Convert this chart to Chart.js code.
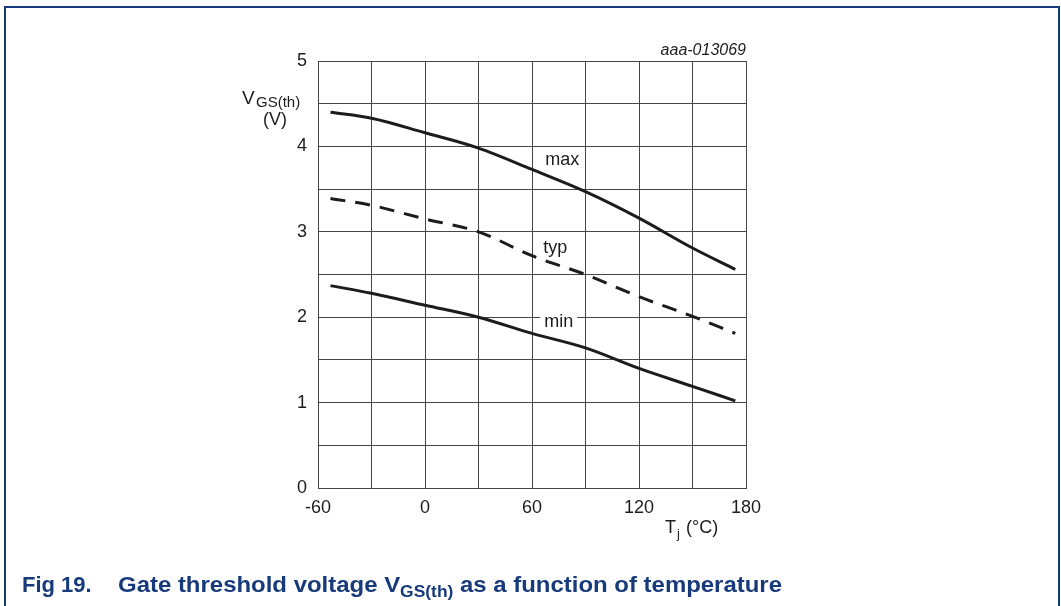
<!DOCTYPE html>
<html>
<head>
<meta charset="utf-8">
<script src="https://cdn.jsdelivr.net/npm/chart.js@4"></script>
<style>
  body { margin: 0; background: #fff; }
  canvas { display: block; }
</style>
</head>
<body>
<canvas id="myChart" width="1061" height="606"></canvas>
<script>
// junction temperature (°C)
const temps = [-53, -30, 0, 30, 60, 90, 120, 150, 174];
// gate threshold voltage (V)
const vMax = [4.40, 4.33, 4.16, 3.98, 3.73, 3.47, 3.16, 2.81, 2.56];
const vTyp = [3.39, 3.31, 3.15, 3.00, 2.72, 2.50, 2.24, 2.01, 1.81];
const vMin = [2.37, 2.28, 2.14, 2.00, 1.81, 1.64, 1.40, 1.19, 1.02];

const curveLabels = [
  { text: 'max', t: 77, v: 3.84, box: false },
  { text: 'typ', t: 73, v: 2.81, box: false },
  { text: 'min', t: 75, v: 1.94, box: true }
];

const FONT = 'Arial, "Liberation Sans", sans-serif';
const INK = '#1c1c1c';
const BLUE = '#173a7a';
const GRID = '#464646';

const toPoints = (vals) => temps.map((t, i) => ({ x: t, y: vals[i] }));

const lineSet = (vals, dash) => ({
  data: toPoints(vals),
  showLine: true,
  borderColor: INK,
  borderWidth: 3,
  borderDash: dash,
  pointRadius: 0,
  cubicInterpolationMode: 'monotone',
  fill: false
});

// frame, captions, axis titles and curve names
const decorations = {
  id: 'decorations',
  afterDraw(chart) {
    const ctx = chart.ctx;
    const xs = chart.scales.x, ys = chart.scales.y;
    ctx.save();

    // blue figure frame
    ctx.strokeStyle = BLUE;
    ctx.lineWidth = 2;
    ctx.beginPath();
    ctx.moveTo(5, 606);
    ctx.lineTo(5, 7);
    ctx.lineTo(1059, 7);
    ctx.lineTo(1059, 606);
    ctx.stroke();

    // curve names
    ctx.textAlign = 'center';
    ctx.textBaseline = 'middle';
    ctx.font = '18px ' + FONT;
    curveLabels.forEach(l => {
      const px = xs.getPixelForValue(l.t), py = ys.getPixelForValue(l.v);
      if (l.box) {
        const w = ctx.measureText(l.text).width;
        ctx.fillStyle = '#fff';
        ctx.fillRect(px - w / 2 - 4, py - 10, w + 8, 20);
      }
      ctx.fillStyle = INK;
      ctx.fillText(l.text, px, py);
    });

    // figure id
    ctx.textAlign = 'right';
    ctx.textBaseline = 'alphabetic';
    ctx.font = 'italic 16px ' + FONT;
    ctx.fillText('aaa-013069', 746, 55);

    // y title
    ctx.textAlign = 'left';
    ctx.font = '19px ' + FONT;
    ctx.fillText('V', 242, 104);
    ctx.font = '15px ' + FONT;
    ctx.fillText('GS(th)', 256, 107);
    ctx.textAlign = 'center';
    ctx.font = '18px ' + FONT;
    ctx.fillText('(V)', 275, 125);

    // x title
    ctx.textAlign = 'left';
    ctx.font = '18px ' + FONT;
    ctx.fillText('T', 665, 533);
    ctx.font = '13px ' + FONT;
    ctx.fillText('j', 677, 538);
    ctx.font = '18px ' + FONT;
    ctx.fillText('(°C)', 686, 533);

    // caption, stretched to the reference width
    ctx.fillStyle = BLUE;
    ctx.font = 'bold 22px ' + FONT;
    ctx.fillText('Fig 19.', 22, 592);
    const part1 = 'Gate threshold voltage V';
    const part3 = ' as a function of temperature';
    const w1 = ctx.measureText(part1).width;
    const w3 = ctx.measureText(part3).width;
    ctx.font = 'bold 16px ' + FONT;
    const w2 = ctx.measureText('GS(th)').width;
    const k = (782 - 118) / (w1 + w2 + w3);
    ctx.translate(118, 0);
    ctx.scale(k, 1);
    ctx.font = 'bold 22px ' + FONT;
    ctx.fillText(part1, 0, 592);
    ctx.font = 'bold 16px ' + FONT;
    ctx.fillText('GS(th)', w1, 597);
    ctx.font = 'bold 22px ' + FONT;
    ctx.fillText(part3, w1 + w2, 592);

    ctx.restore();
  }
};

let myChart;

const setup = () => {
  const ctxt = document.getElementById('myChart').getContext('2d');
  myChart = new Chart(ctxt, {
    type: 'scatter',
    data: {
      datasets: [lineSet(vMax, []), lineSet(vTyp, [15, 10]), lineSet(vMin, [])]
    },
    options: {
      responsive: false,
      animation: false,
      layout: { padding: { left: 0, top: 61, right: 315, bottom: 0 } },
      plugins: { legend: { display: false }, tooltip: { enabled: false } },
      scales: {
        x: {
          type: 'linear',
          min: -60,
          max: 180,
          afterFit: (s) => { s.height = 118; },
          grid: { color: GRID, lineWidth: 1, drawTicks: false },
          border: { color: GRID, width: 1 },
          ticks: {
            stepSize: 30,
            autoSkip: false,
            maxRotation: 0,
            padding: 9,
            color: INK,
            font: { family: FONT, size: 18 },
            callback: (v) => (v % 60 === 0 ? String(v) : '')
          }
        },
        y: {
          min: 0,
          max: 5,
          afterFit: (s) => { s.width = 318; },
          grid: { color: GRID, lineWidth: 1, drawTicks: false },
          border: { color: GRID, width: 1 },
          ticks: {
            stepSize: 0.5,
            autoSkip: false,
            padding: 11,
            color: INK,
            font: { family: FONT, size: 18 },
            callback: (v) => (Number.isInteger(v) ? String(v) : '')
          }
        }
      }
    },
    plugins: [decorations]
  });
};

window.addEventListener('DOMContentLoaded', setup);
</script>
</body>
</html>
